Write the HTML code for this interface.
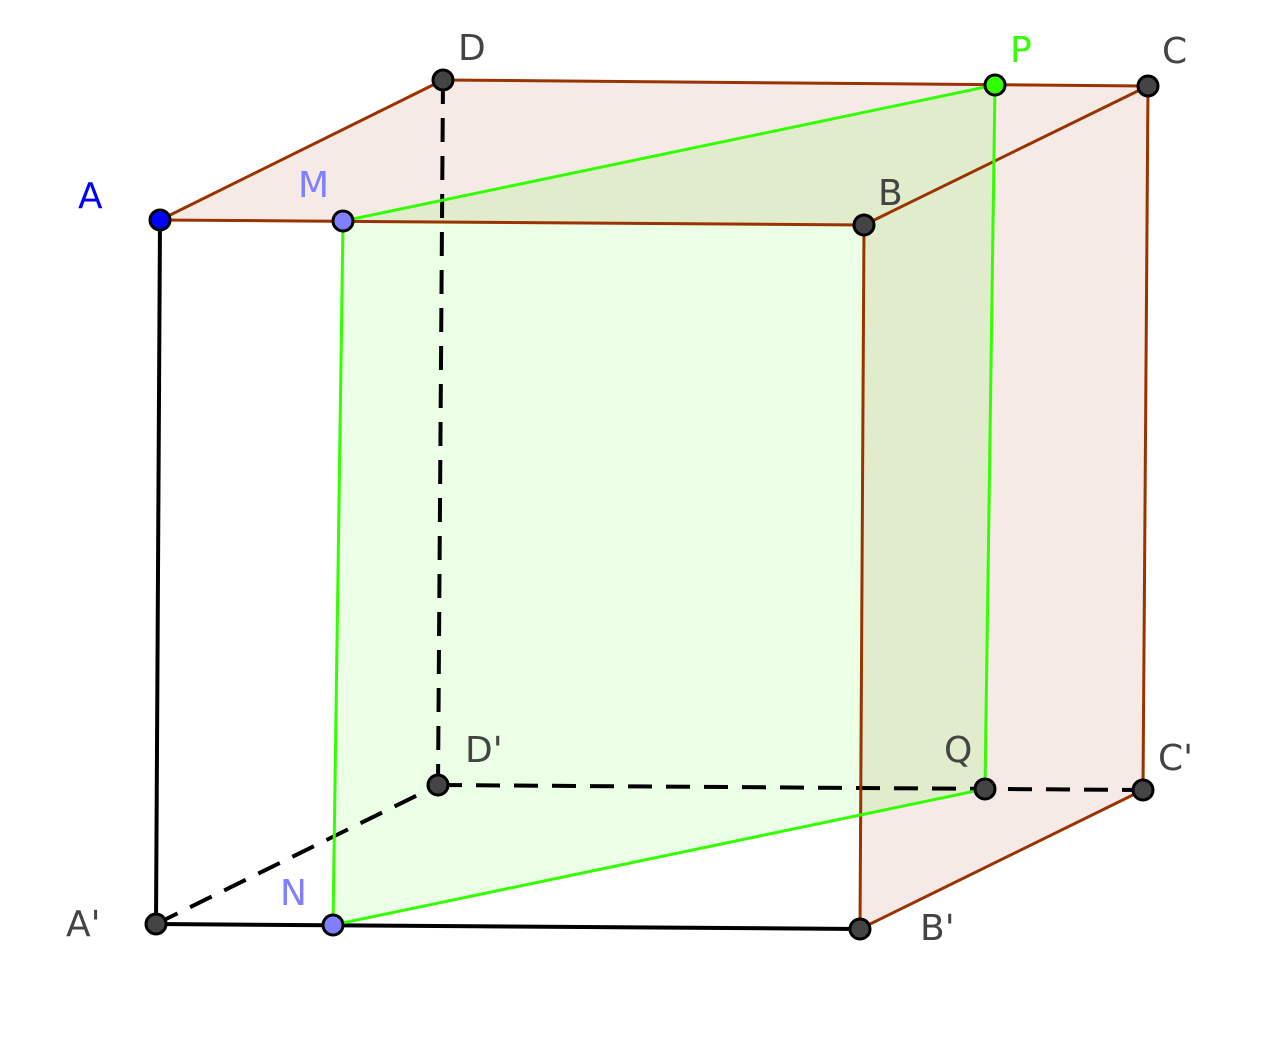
<!DOCTYPE html>
<html><head><meta charset="utf-8"><style>
html,body{margin:0;padding:0;background:#fff}
svg{display:block}
text{font-family:"DejaVu Sans","Liberation Sans",sans-serif;font-size:36px;fill:#444}
</style></head><body>
<svg width="1279" height="1038" viewBox="0 0 1279 1038" xmlns="http://www.w3.org/2000/svg">
<!-- faces -->
<polygon points="160,220 864,225 1148,86 443,80" fill="rgb(153,51,0)" fill-opacity="0.1"/>
<polygon points="864,225 1148,86 1143,790 860,929" fill="rgb(153,51,0)" fill-opacity="0.1"/>
<polygon points="343,221 995,85 985,789 333,925" fill="rgb(51,255,0)" fill-opacity="0.1"/>
<!-- dashed hidden edges -->
<g stroke="#000" stroke-width="4" stroke-dasharray="24,14" fill="none">
<line x1="443" y1="80" x2="438" y2="785"/>
<line x1="438" y1="785" x2="1143" y2="790"/>
<line x1="156" y1="924" x2="438" y2="785"/>
</g>
<!-- black edges -->
<g stroke="#000" stroke-width="4">
<line x1="160" y1="220" x2="156" y2="924"/>
<line x1="156" y1="924" x2="860" y2="929"/>
</g>
<!-- brown edges -->
<g stroke="#993300" stroke-width="3">
<line x1="160" y1="220" x2="864" y2="225"/>
<line x1="160" y1="220" x2="443" y2="80"/>
<line x1="443" y1="80" x2="1148" y2="86"/>
<line x1="864" y1="225" x2="1148" y2="86"/>
<line x1="1148" y1="86" x2="1143" y2="790"/>
<line x1="864" y1="225" x2="860" y2="929"/>
<line x1="860" y1="929" x2="1143" y2="790"/>
</g>
<!-- green edges -->
<g stroke="#33ff00" stroke-width="3">
<line x1="343" y1="221" x2="995" y2="85"/>
<line x1="995" y1="85" x2="985" y2="789"/>
<line x1="985" y1="789" x2="333" y2="925"/>
<line x1="333" y1="925" x2="343" y2="221"/>
</g>
<!-- points -->
<g stroke="#000" stroke-width="3">
<circle cx="160" cy="220" r="10" fill="#0000ff"/>
<circle cx="343" cy="221" r="10" fill="#7f7fff"/>
<circle cx="864" cy="225" r="10" fill="#444"/>
<circle cx="443" cy="80" r="10" fill="#444"/>
<circle cx="995" cy="85" r="10" fill="#33ff00"/>
<circle cx="1148" cy="86" r="10" fill="#444"/>
<circle cx="156" cy="924" r="10" fill="#444"/>
<circle cx="333" cy="925" r="10" fill="#7f7fff"/>
<circle cx="860" cy="929" r="10" fill="#444"/>
<circle cx="438" cy="785" r="10" fill="#444"/>
<circle cx="985" cy="789" r="10" fill="#444"/>
<circle cx="1143" cy="790" r="10" fill="#444"/>
</g>
<!-- labels -->
<text x="78" y="208" style="fill:#0000ff">A</text>
<text x="298" y="197" style="fill:#7f7fff">M</text>
<text x="458" y="60">D</text>
<text x="1010" y="62" style="fill:#33ff00">P</text>
<text x="1162" y="63">C</text>
<text x="878" y="205">B</text>
<text x="465" y="762">D'</text>
<text x="944" y="762">Q</text>
<text x="1158" y="770">C'</text>
<text x="66" y="936">A'</text>
<text x="280" y="905" style="fill:#7f7fff">N</text>
<text x="920" y="940">B'</text>
</svg>
</body></html>
